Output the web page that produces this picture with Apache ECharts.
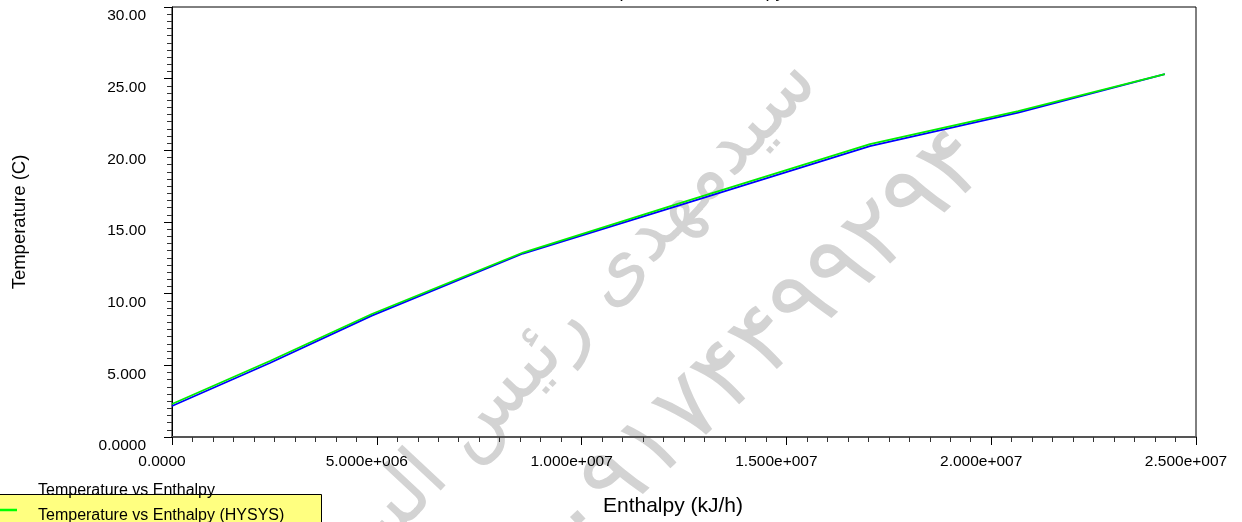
<!DOCTYPE html>
<html><head><meta charset="utf-8">
<script src="https://cdn.jsdelivr.net/npm/echarts@6/dist/echarts.min.js"></script>
<style>html,body{margin:0;padding:0;background:#fff}#c{width:1242px;height:522px}</style>
</head><body><div id="c"></div>
<script>
// Enthalpy (kJ/h) values
const enthalpy = [0, 2.39e6, 4.88e6, 8.57e6, 12.48e6, 17.04e6, 20.66e6, 24.24e6];
// Temperature (C)
const tempCalc = [2.16, 5.16, 8.47, 12.80, 16.25, 20.29, 22.63, 25.31];
const tempHysys = [2.30, 5.30, 8.58, 12.87, 16.39, 20.43, 22.73, 25.31];
const xTickLabels = ['0.0000', '5.000e+006', '1.000e+007', '1.500e+007', '2.000e+007', '2.500e+007'];
const yTickLabels = ['0.0000', '5.000', '10.00', '15.00', '20.00', '25.00', '30.00'];
const seriesNames = ['Temperature vs Enthalpy', 'Temperature vs Enthalpy (HYSYS)'];
const watermark1 = 'سیدمهدی رئیس السادات';
const watermark2 = '۰۹۱۷۴۴۹۹۲۹۴';

const FONT = "'Liberation Sans', Arial, sans-serif";
const chart = echarts.init(document.getElementById('c'), null, {renderer: 'canvas'});
const pairs = (ys) => enthalpy.map((x, i) => [x, ys[i]]);

chart.setOption({
  animation: false,
  backgroundColor: '#ffffff',
  grid: {left: 172, right: 46, top: 7, bottom: 85, show: true, borderColor: '#000', borderWidth: 1, backgroundColor: 'transparent'},
  xAxis: {
    type: 'value', min: 0, max: 2.5e7, interval: 5e6,
    name: 'Enthalpy (kJ/h)', nameLocation: 'middle', nameGap: 59,
    nameTextStyle: {fontFamily: FONT, fontSize: 21, color: '#000', padding: [0, 22, 0, 0]},
    axisLine: {show: true, lineStyle: {color: '#555', width: 2}},
    axisTick: {show: true, length: 8, lineStyle: {color: '#000', width: 1}},
    minorTick: {show: true, splitNumber: 10, length: 5, lineStyle: {color: '#333', width: 1}},
    splitLine: {show: false},
    axisLabel: {
      fontFamily: FONT, fontSize: 15.5, color: '#000', margin: 17, padding: [0, 20, 0, 0],
      showMinLabel: true, showMaxLabel: true,
      formatter: (v) => xTickLabels[Math.round(v / 5e6)]
    }
  },
  yAxis: {
    type: 'value', min: 0, max: 30, interval: 5,
    name: 'Temperature (C)', nameLocation: 'middle', nameGap: 143,
    nameTextStyle: {fontFamily: FONT, fontSize: 18.5, color: '#000'},
    axisLine: {show: true, lineStyle: {color: '#000', width: 1}},
    axisTick: {show: true, length: 8, lineStyle: {color: '#000', width: 1}},
    minorTick: {show: true, splitNumber: 10, length: 5, lineStyle: {color: '#333', width: 1}},
    splitLine: {show: false},
    axisLabel: {
      fontFamily: FONT, fontSize: 15.5, color: '#000', margin: 26, verticalAlign: 'top', padding: [1, 0, 0, 0],
      showMinLabel: true, showMaxLabel: true,
      formatter: (v) => yTickLabels[Math.round(v / 5)]
    }
  },
  graphic: [
    {type: 'text', x: 805, y: 70, rotation: 47 * Math.PI / 180, z: -10, silent: true,
      style: {text: watermark1, fontFamily: "'DejaVu Sans', sans-serif", fontSize: 78, fill: '#d3d3d3', align: 'right', verticalAlign: 'middle'}},
    {type: 'text', x: 975, y: 150, rotation: 43 * Math.PI / 180, z: -10, silent: true,
      style: {text: watermark2, fontFamily: "'DejaVu Sans', sans-serif", fontSize: 96, fill: '#d3d3d3', align: 'right', verticalAlign: 'middle'}},
    {type: 'text', x: 685, y: 1, style: {text: 'Temperature vs Enthalpy', fontFamily: FONT, fontSize: 18, fill: '#000', align: 'center', verticalAlign: 'bottom'}},
    {type: 'rect', shape: {x: -2, y: 494.5, width: 323.5, height: 40}, style: {fill: '#ffff80', stroke: '#000', lineWidth: 1}, z: 5},
    {type: 'text', x: 38, y: 491, z: 6, style: {text: seriesNames[0], fontFamily: FONT, fontSize: 16, fill: '#000', align: 'left', verticalAlign: 'middle'}},
    {type: 'line', shape: {x1: 0, y1: 510, x2: 17, y2: 510}, style: {stroke: '#00ff00', lineWidth: 2.5}, z: 6},
    {type: 'text', x: 38, y: 516, z: 6, style: {text: seriesNames[1], fontFamily: FONT, fontSize: 16, fill: '#000', align: 'left', verticalAlign: 'middle'}}
  ],
  series: [
    {name: seriesNames[0], type: 'line', data: pairs(tempCalc), showSymbol: false, symbol: 'none',
      lineStyle: {color: '#0000ff', width: 1.8}, itemStyle: {color: '#0000ff'}, z: 2},
    {name: seriesNames[1], type: 'line', data: pairs(tempHysys), showSymbol: false, symbol: 'none',
      lineStyle: {color: '#00ee00', width: 1.8}, itemStyle: {color: '#00ee00'}, z: 3}
  ]
});
</script></body></html>
